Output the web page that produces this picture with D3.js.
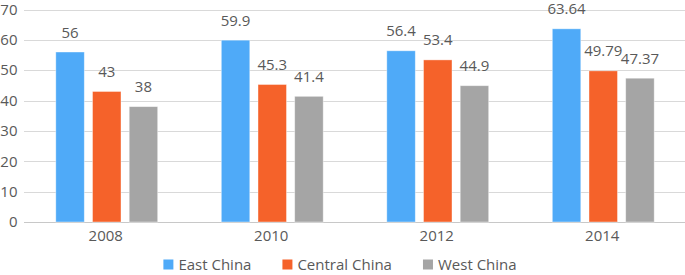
<!DOCTYPE html>
<html><head><meta charset="utf-8">
<script src="https://cdn.jsdelivr.net/npm/d3@7"></script>
<style>body{margin:0;background:#fff}svg{display:block}text{font-family:"Open Sans",sans-serif;fill:#595959}</style>
</head><body><svg id="c" width="685" height="275"></svg>
<script>
const years = ["2008","2010","2012","2014"];
const seriesNames = ["East China","Central China","West China"];
const eastChina = [56, 59.9, 56.4, 63.64];
const centralChina = [43, 45.3, 53.4, 49.79];
const westChina = [38, 41.4, 44.9, 47.37];
const labelsEast = ["56","59.9","56.4","63.64"];
const labelsCentral = ["43","45.3","53.4","49.79"];
const labelsWest = ["38","41.4","44.9","47.37"];
const yTicks = [0,10,20,30,40,50,60,70];
const colors = ["#4faaf8","#f5622a","#a5a5a5"];

(function(){
const series = [
  {name: seriesNames[0], values: eastChina, labels: labelsEast},
  {name: seriesNames[1], values: centralChina, labels: labelsCentral},
  {name: seriesNames[2], values: westChina, labels: labelsWest}
];
const FS = 15;
const svg = d3.select("#c");
const mLeft = 24, mRight = 686, mTop = 9.5, mBottom = 222;
const x = d3.scaleBand().domain(years).range([mLeft, mRight]).paddingInner(0).paddingOuter(0);
const y = d3.scaleLinear().domain([0,70]).range([mBottom, mTop]);
const barW = 28.5, barStep = 36.7;

svg.append("g").selectAll("line").data(yTicks).join("line")
  .attr("x1", mLeft).attr("x2", 685)
  .attr("y1", d => Math.round(y(d)) + 0.5).attr("y2", d => Math.round(y(d)) + 0.5)
  .attr("stroke", d => d === 0 ? "#c8c8c8" : "#d9d9d9").attr("stroke-width", 1);

svg.append("g").selectAll("text").data(yTicks).join("text")
  .attr("x", 17.5).attr("y", d => y(d)).attr("dy", "0.35em")
  .attr("text-anchor", "end").attr("font-size", FS).text(d => d);

series.forEach((s, si) => {
  const g = svg.append("g");
  const cx = d => x(d) + x.bandwidth()/2 + (si - 1) * barStep;
  g.selectAll("rect").data(years).join("rect")
    .attr("x", d => cx(d) - barW/2)
    .attr("y", (d,i) => y(s.values[i]))
    .attr("width", barW)
    .attr("height", (d,i) => y(0) - y(s.values[i]))
    .attr("fill", colors[si])
    .attr("stroke", "#ffffff").attr("stroke-opacity", 0.5).attr("stroke-width", 0.8);
  g.selectAll("text").data(years).join("text")
    .attr("x", d => cx(d))
    .attr("y", (d,i) => y(s.values[i]) - 14.5)
    .attr("text-anchor", "middle").attr("font-size", FS)
    .text((d,i) => s.labels[i]);
});

svg.append("g").selectAll("text").data(years).join("text")
  .attr("x", d => x(d) + x.bandwidth()/2 - 1).attr("y", 240.5)
  .attr("text-anchor", "middle").attr("font-size", FS).text(d => d);

const leg = svg.append("g");
const items = leg.selectAll("g").data(series).join("g");
items.append("rect").attr("width", 10).attr("height", 10).attr("y", 259.5)
  .attr("fill", (d,i) => colors[i]);
items.append("text").attr("x", 15).attr("y", 264.5).attr("dy","0.35em")
  .attr("font-size", FS).text(d => d.name);
let pos = 0;
const offsets = [];
items.each(function(d){
  const w = this.querySelector("text").getComputedTextLength();
  offsets.push(pos);
  pos += 15 + w + 31;
});
const total = pos - 31;
const start = 340 - total/2;
items.attr("transform", (d,i) => `translate(${start + offsets[i]},0)`);
})();
</script></body></html>
